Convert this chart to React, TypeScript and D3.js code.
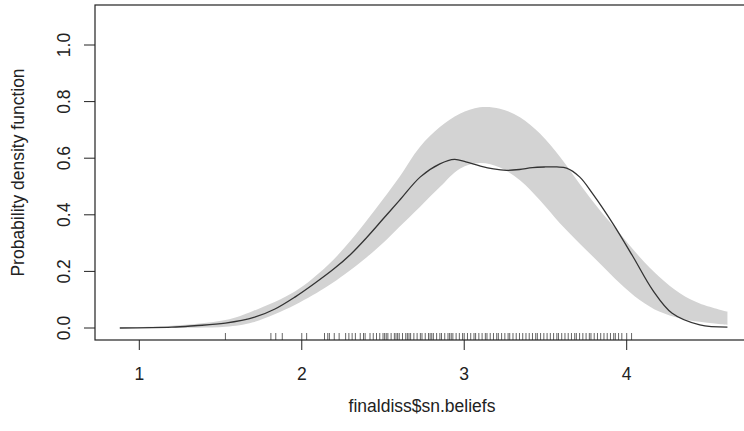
import React from 'react'
import * as d3 from 'd3'

// density estimate (black line)
const densX = [0.88, 1.2, 1.34, 1.53, 1.71, 1.835, 1.96, 2.08, 2.2, 2.3, 2.4, 2.5, 2.6, 2.73, 2.85, 2.94, 3.01, 3.1, 3.18, 3.26, 3.34, 3.42, 3.5, 3.57, 3.63, 3.71, 3.79, 3.915, 4.04, 4.16, 4.28, 4.45, 4.62]
const densY = [0.0, 0.003, 0.008, 0.017, 0.038, 0.067, 0.11, 0.158, 0.21, 0.26, 0.32, 0.385, 0.45, 0.534, 0.58, 0.596, 0.587, 0.572, 0.562, 0.557, 0.56, 0.567, 0.569, 0.569, 0.565, 0.534, 0.475, 0.369, 0.251, 0.134, 0.052, 0.011, 0.003]

// reference band (grey)
const bandX = [0.88, 1.2, 1.53, 1.7, 1.96, 2.16, 2.265, 2.4, 2.5, 2.6, 2.727, 2.85, 2.973, 3.096, 3.22, 3.343, 3.466, 3.59, 3.71, 3.835, 3.958, 4.08, 4.2, 4.33, 4.45, 4.62]
const bandUpper = [0.002, 0.008, 0.028, 0.06, 0.13, 0.222, 0.285, 0.38, 0.455, 0.533, 0.64, 0.71, 0.757, 0.78, 0.775, 0.745, 0.687, 0.604, 0.51, 0.416, 0.334, 0.251, 0.181, 0.122, 0.087, 0.058]
const bandLower = [0.0, 0.001, 0.004, 0.02, 0.082, 0.148, 0.19, 0.25, 0.3, 0.357, 0.428, 0.498, 0.563, 0.583, 0.567, 0.522, 0.451, 0.369, 0.299, 0.228, 0.158, 0.099, 0.058, 0.034, 0.022, 0.011]

// observed values (rug)
const rugValues = [1.53, 1.81, 1.84, 1.88, 2.0, 2.03,
  2.14, 2.16, 2.17, 2.2, 2.23, 2.27, 2.29, 2.31, 2.33, 2.36, 2.38, 2.39, 2.42, 2.44, 2.46, 2.48,
  2.5, 2.51, 2.52, 2.53, 2.55, 2.57, 2.58, 2.59, 2.6, 2.62, 2.64, 2.65, 2.66, 2.67, 2.69, 2.71, 2.73, 2.74, 2.76,
  2.78, 2.79, 2.8, 2.81, 2.83, 2.85, 2.86, 2.88, 2.9, 2.91, 2.92, 2.93, 2.95, 2.97, 2.99, 3.0, 3.02, 3.04,
  3.06, 3.07, 3.09, 3.11, 3.13, 3.14, 3.16, 3.18, 3.2, 3.21, 3.23, 3.25, 3.27, 3.28, 3.3, 3.32,
  3.34, 3.36, 3.38, 3.4, 3.42, 3.44, 3.45, 3.47, 3.49, 3.51, 3.53, 3.55, 3.57, 3.58, 3.6, 3.62,
  3.64, 3.66, 3.68, 3.69, 3.71, 3.73, 3.75, 3.77, 3.78, 3.8, 3.82, 3.84, 3.86, 3.88, 3.9, 3.92,
  3.93, 3.95, 3.97, 4.0, 4.03]

const xTicks = [1, 2, 3, 4]
const yTicks = [0, 0.2, 0.4, 0.6, 0.8, 1.0]
const xTitle = 'finaldiss$sn.beliefs'
const yTitle = 'Probability density function'

const W = 744, H = 431
const left = 95, right = 749, top = 5, bottom = 340

export default function App() {
  const x = d3.scaleLinear().domain([1, 4]).range([139.3, 626.7])
  const y = d3.scaleLinear().domain([0, 1]).range([328, 45])

  const band = d3.area<number>()
    .x((_, i) => x(bandX[i]))
    .y0((_, i) => y(bandLower[i]))
    .y1((_, i) => y(bandUpper[i]))
    .curve(d3.curveCatmullRom.alpha(0.5))

  const dens = d3.line<number>()
    .x((_, i) => x(densX[i]))
    .y((_, i) => y(densY[i]))
    .curve(d3.curveCatmullRom.alpha(0.5))

  const font = '"Liberation Sans", Arial, Helvetica, sans-serif'
  const fs = 17.5

  return (
    <svg width={W} height={H} style={{ position: 'fixed', left: 0, top: 0, background: '#fff' }}
      fontFamily={font}>
      <path d={band(bandX) || ''} fill="#d3d3d3" />
      <path d={dens(densX) || ''} fill="none" stroke="#333" strokeWidth={1.3} />
      {rugValues.map((v, i) => (
        <line key={'r' + i} x1={x(v)} x2={x(v)} y1={bottom} y2={bottom - 7} stroke="#222" strokeWidth={0.7} />
      ))}
      <rect x={left} y={top} width={right - left} height={bottom - top} fill="none" stroke="#222" strokeWidth={1.2} />
      {xTicks.map(t => (
        <g key={'x' + t}>
          <line x1={x(t)} x2={x(t)} y1={bottom} y2={bottom + 10} stroke="#222" />
          <text x={x(t)} y={380} textAnchor="middle" fontSize={fs} fill="#222">{t}</text>
        </g>
      ))}
      {yTicks.map(t => (
        <g key={'y' + t}>
          <line x1={left - 11} x2={left} y1={y(t)} y2={y(t)} stroke="#222" />
          <text transform={`translate(70,${y(t)}) rotate(-90)`} textAnchor="middle" fontSize={fs} fill="#222">{t.toFixed(1)}</text>
        </g>
      ))}
      <text x={(left + right) / 2} y={412} textAnchor="middle" fontSize={fs} fill="#222">{xTitle}</text>
      <text transform={`translate(24,${(top + bottom) / 2}) rotate(-90)`} textAnchor="middle" fontSize={fs} fill="#222">{yTitle}</text>
    </svg>
  )
}
